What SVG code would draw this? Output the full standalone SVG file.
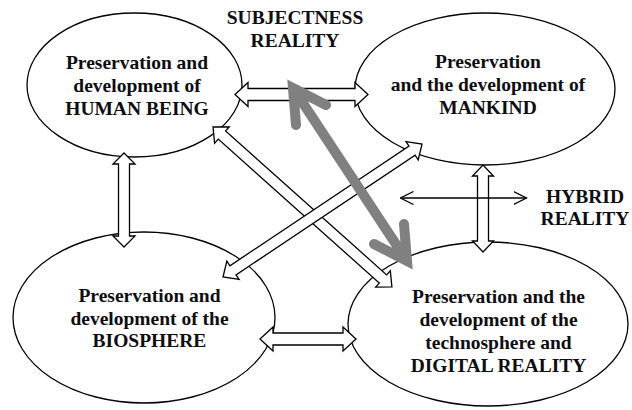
<svg xmlns="http://www.w3.org/2000/svg" width="632" height="410" viewBox="0 0 632 410">
<style>
.node ellipse{fill:#fff;stroke:#000;stroke-width:1.3}
text{font-family:"Liberation Serif","Times New Roman",serif;font-weight:bold;font-size:19.5px;fill:#0d0d12;text-anchor:middle}
.blk{fill:#fff;stroke:#000;stroke-width:1.3;stroke-linejoin:miter}
.thin{fill:none;stroke:#000;stroke-width:1.3}
.gray{fill:none;stroke:#808080;stroke-width:10;stroke-linecap:round;stroke-linejoin:miter;stroke-miterlimit:10}
</style>
<defs>
<marker id="open" viewBox="0 0 14 14" refX="13" refY="7" markerWidth="14" markerHeight="14" markerUnits="userSpaceOnUse" orient="auto-start-reverse">
<path d="M0,0.5 L13,7 L0,13.5" fill="none" stroke="#000" stroke-width="1.3"/>
</marker>
</defs>
<rect width="632" height="410" fill="#fff"/>
<g id="human" class="node">
<ellipse cx="134.5" cy="85" rx="107.5" ry="72"/>
<text x="137" y="69">Preservation and</text>
<text x="137" y="92">development of</text>
<text x="137" y="115">HUMAN BEING</text>
</g>
<g id="mankind" class="node">
<ellipse cx="485" cy="89" rx="130" ry="76"/>
<text x="488" y="68">Preservation</text>
<text x="488" y="91">and the development of</text>
<text x="488" y="114">MANKIND</text>
</g>
<g id="biosphere" class="node">
<ellipse cx="144" cy="317.5" rx="131" ry="85.5"/>
<text x="149.5" y="302">Preservation and</text>
<text x="149.5" y="324.5">development of the</text>
<text x="149.5" y="347">BIOSPHERE</text>
</g>
<g id="technosphere" class="node">
<ellipse cx="488" cy="324" rx="140" ry="82"/>
<text x="498.5" y="303">Preservation and the</text>
<text x="498.5" y="326">development of the</text>
<text x="498.5" y="349">technosphere and</text>
<text x="498.5" y="372">DIGITAL REALITY</text>
</g>
<g id="labels">
<text x="295" y="24">SUBJECTNESS</text>
<text x="295" y="47">REALITY</text>
<text x="585" y="203">HYBRID</text>
<text x="585" y="225">REALITY</text>
</g>
<g id="connectors">
<path class="blk" transform="translate(235,94.5)" d="M0,0 L13,-12 L13,-6 L120,-6 L120,-12 L133,0 L120,12 L120,6 L13,6 L13,12 Z"/>
<path class="blk" transform="translate(124,153) rotate(90)" d="M0,0 L11,-11 L11,-5.5 L83,-5.5 L83,-11 L94,0 L83,11 L83,5.5 L11,5.5 L11,11 Z"/>
<path class="blk" transform="translate(483,165) rotate(90)" d="M0,0 L11,-10.5 L11,-5.5 L76,-5.5 L76,-10.5 L87,0 L76,10.5 L76,5.5 L11,5.5 L11,10.5 Z"/>
<path class="blk" transform="translate(260,339)" d="M0,0 L13,-12 L13,-6 L83,-6 L83,-12 L96,0 L83,12 L83,6 L13,6 L13,12 Z"/>
<path class="blk" transform="translate(213,127) rotate(41.8)" d="M0,0 L12,-11 L12,-5.5 L228,-5.5 L228,-11 L240,0 L228,11 L228,5.5 L12,5.5 L12,11 Z"/>
<path class="blk" transform="translate(223,277) rotate(-33.75)" d="M0,0 L12,-11 L12,-5.5 L227.4,-5.5 L227.4,-11 L239.4,0 L227.4,11 L227.4,5.5 L12,5.5 L12,11 Z"/>
<line class="thin" x1="400.5" y1="198" x2="526.5" y2="198" marker-start="url(#open)" marker-end="url(#open)"/>
<path class="gray" d="M296,125 L293,88 L326,105 M293,88 L407,261 M404,224 L407,261 L374,244"/>
</g>
</svg>
